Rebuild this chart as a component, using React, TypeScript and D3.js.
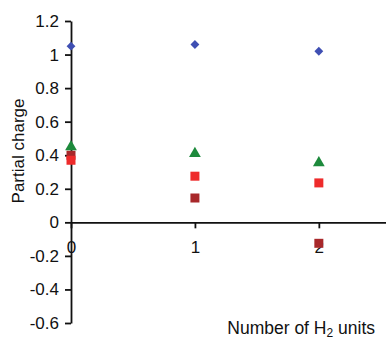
import * as d3 from "d3";
import React, { useRef, useEffect } from "react";

const xValues = [0, 1, 2];
const seriesBlue = [1.05, 1.06, 1.02];
const seriesGreen = [0.45, 0.41, 0.355];
const seriesRed = [0.37, 0.275, 0.235];
const seriesDarkRed = [0.4, 0.145, -0.125];
const yTicks = [-0.6, -0.4, -0.2, 0, 0.2, 0.4, 0.6, 0.8, 1, 1.2];

const App: React.FC = () => {
  const svgRef = useRef<SVGSVGElement | null>(null);

  useEffect(() => {
    const width = 386;
    const height = 341;
    const svg = d3.select(svgRef.current)
      .attr("width", width)
      .attr("height", height)
      .html("");

    const font = "Liberation Sans, Arial, sans-serif";

    const xScale = d3.scaleLinear().domain([0, 2.55]).range([71, 387]);
    const yScale = d3.scaleLinear().domain([-0.6, 1.2]).range([323, 21]);

    // plain hyphen for negatives, like the original
    const fmt = (d: d3.NumberValue) => String(+(+d).toFixed(1));

    // Y axis
    const yAxis = svg.append("g")
      .attr("transform", `translate(${xScale(0)},0)`)
      .call(d3.axisLeft(yScale).tickValues(yTicks).tickSize(6).tickSizeOuter(0).tickFormat(fmt));
    yAxis.select(".domain").attr("stroke", "#111").attr("stroke-width", 1.8);
    yAxis.selectAll(".tick line").attr("stroke", "#111").attr("stroke-width", 1.8);
    yAxis.selectAll("text")
      .attr("x", -12)
      .style("font-family", font)
      .style("font-size", "17px")
      .attr("fill", "#111");

    // X axis at y = 0
    const xAxis = svg.append("g")
      .attr("transform", `translate(0,${yScale(0)})`)
      .call(d3.axisBottom(xScale).tickValues(xValues).tickSize(6).tickSizeOuter(0).tickFormat(fmt));
    xAxis.select(".domain").attr("stroke", "#111").attr("stroke-width", 1.8);
    xAxis.selectAll(".tick line").attr("stroke", "#111").attr("stroke-width", 1.8);
    xAxis.selectAll("text")
      .attr("y", 19)
      .style("font-family", font)
      .style("font-size", "17px")
      .attr("fill", "#111");

    const plot = svg.append("g");

    const drawSeries = (values: number[], type: d3.SymbolType, size: number, color: string) => {
      plot.selectAll(null)
        .data(values)
        .enter()
        .append("path")
        .attr("d", d3.symbol().type(type).size(size)())
        .attr("transform", (d, i) => `translate(${xScale(xValues[i])},${yScale(d)})`)
        .attr("fill", color);
    };

    drawSeries(seriesDarkRed, d3.symbolSquare, 81, "#a8282a");
    drawSeries(seriesRed, d3.symbolSquare, 81, "#ee2b2b");
    drawSeries(seriesGreen, d3.symbolTriangle, 60, "#1d8a3c");
    drawSeries(seriesBlue, d3.symbolDiamond2, 50, "#3f4fb3");

    // Y label
    svg.append("text")
      .attr("transform", `translate(24,151) rotate(-90)`)
      .attr("text-anchor", "middle")
      .style("font-family", font)
      .style("font-size", "17px")
      .attr("fill", "#111")
      .text("Partial charge");

    // X label
    const xl = svg.append("text")
      .attr("x", 375)
      .attr("y", 334)
      .attr("text-anchor", "end")
      .style("font-family", font)
      .style("font-size", "17.5px")
      .attr("fill", "#111");
    xl.append("tspan").text("Number of H");
    xl.append("tspan").attr("dy", 2.5).style("font-size", "12px").text("2");
    xl.append("tspan").attr("dy", -2.5).text(" units");
  }, []);

  return <svg ref={svgRef} style={{ position: "absolute", left: 0, top: 0 }}></svg>;
};

export default App;
